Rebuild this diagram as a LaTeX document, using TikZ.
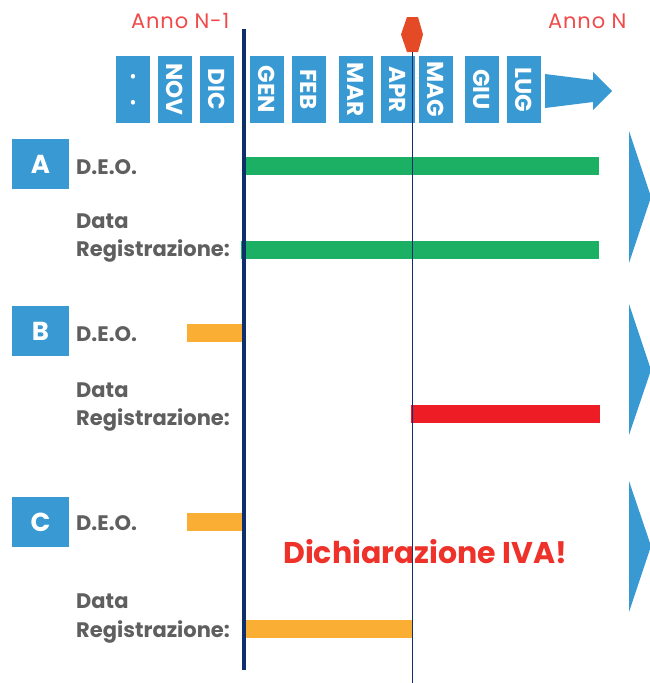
\documentclass[tikz,border=0pt]{standalone}
\usepackage{fontspec}
\setmainfont{Poppins}
\definecolor{boxblue}{HTML}{3899D3}
\definecolor{navy}{HTML}{0F2E6C}
\definecolor{barGreen}{HTML}{1BB063}
\definecolor{barOrange}{HTML}{FBAE34}
\definecolor{barRed}{HTML}{EE1D25}
\definecolor{txtRed}{HTML}{EE3129}
\definecolor{annoRed}{HTML}{F04A4A}
\definecolor{hexRed}{HTML}{E44A26}
\definecolor{txtGray}{HTML}{5F5F5F}
\begin{document}
\begin{tikzpicture}[x=1pt,y=-1pt,
  monthbox/.style={fill=boxblue, text=white, rotate=-90, minimum width=67pt, minimum height=34pt, inner sep=0pt, font=\bfseries\fontsize{23}{23}\selectfont},
  letterbox/.style={fill=boxblue, text=white, minimum width=57pt, minimum height=50pt, inner sep=0pt, font=\bfseries\fontsize{26}{26}\selectfont},
  rowtext/.style={text=txtGray, anchor=base west, inner sep=0pt, font=\bfseries\fontsize{21}{21}\selectfont},
  barbox/.style={inner sep=0pt, minimum height=18pt, anchor=west},
  annotext/.style={text=annoRed, anchor=base west, inner sep=0pt, font=\fontsize{21}{21}\selectfont\addfontfeature{LetterSpace=4}},
  bigtri/.style={fill=boxblue},
]
\useasboundingbox (0,0) rectangle (650,683);

% year labels
\node[annotext] (annoprev) at (131,28) {Anno N-1};
\node[annotext] (annonext) at (548,28) {Anno N};

% months
\node[monthbox] (m0) at (133,89.5) {.\hspace{19pt}.};
\node[monthbox] (m1) at (175,89.5) {NOV};
\node[monthbox] (m2) at (217,89.5) {DIC};
\node[monthbox] (m3) at (267,89.5) {GEN};
\node[monthbox] (m4) at (309,89.5) {FEB};
\node[monthbox] (m5) at (356,89.5) {MAR};
\node[monthbox] (m6) at (398,89.5) {APR};
\node[monthbox] (m7) at (436,89.5) {MAG};
\node[monthbox] (m8) at (482,89.5) {GIU};
\node[monthbox] (m9) at (524,89.5) {LUG};
\fill[boxblue] (545,74) -- (593,80) -- (593,72) -- (612,91) -- (593,110) -- (593,102) -- (545,108) -- cycle;

% big triangles
\fill[bigtri] (629,131) -- (651,197) -- (629,263) -- cycle;
\fill[bigtri] (629,304) -- (651,370) -- (629,435) -- cycle;
\fill[bigtri] (629,481) -- (651,546) -- (629,612) -- cycle;

% row A
\node[letterbox] (la) at (40.5,164) {A};
\node[rowtext] (deoa) at (76,174) {D.E.O.};
\node[rowtext] (dataa) at (76,228) {Data};
\node[rowtext] (rega) at (76,256) {Registrazione:};
\node[barbox, fill=barGreen, minimum width=353pt] (ba1) at (246,166) {};
\node[barbox, fill=barGreen, minimum width=358pt] (ba2) at (241,250) {};

% row B
\node[letterbox] (lb) at (40.5,331) {B};
\node[rowtext] (deob) at (76,341) {D.E.O.};
\node[rowtext] (datab) at (76,397) {Data};
\node[rowtext] (regb) at (76,425) {Registrazione:};
\node[barbox, fill=barOrange, minimum width=55pt] (bb1) at (187,333) {};
\node[barbox, fill=barRed, minimum width=189pt] (bb2) at (411,414) {};

% row C
\node[letterbox] (lc) at (40.5,522) {C};
\node[rowtext] (deoc) at (76,530) {D.E.O.};
\node[rowtext] (datac) at (76,608) {Data};
\node[rowtext] (regc) at (76,637) {Registrazione:};
\node[barbox, fill=barOrange, minimum width=55pt] (bc1) at (187,522) {};
\node[barbox, fill=barOrange, minimum width=166pt] (bc2) at (246,629) {};

\node[text=txtRed, anchor=base west, inner sep=0pt, font=\bfseries\fontsize{30}{30}\selectfont] (iva) at (283,563) {Dichiarazione IVA!};

% vertical lines
\coordinate (navytop) at (244,29);
\coordinate (navybot) at (244,670);
\draw[navy, line width=4pt] (navytop) -- (navybot);
\fill[hexRed] (407,17) -- (418,17) -- (423,34.5) -- (418,52) -- (407,52) -- (401,34.5) -- cycle;
\coordinate (hexbot) at (412.5,52);
\coordinate (thinbot) at (412.5,683);
\draw[navy, line width=1.1pt] (hexbot) -- (thinbot);
\end{tikzpicture}
\end{document}
